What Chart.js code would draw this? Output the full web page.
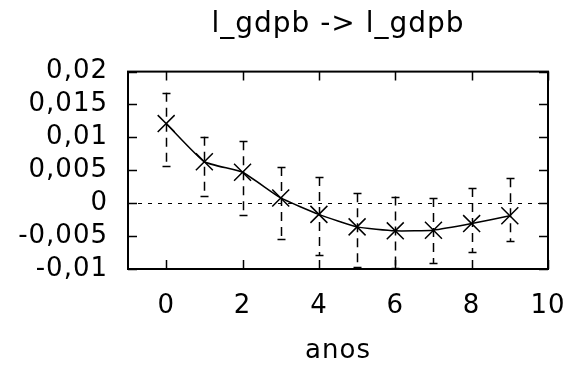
<!DOCTYPE html>
<html lang="pt">
  <head>
    <meta charset="UTF-8" />
    <title>l_gdpb -> l_gdpb</title>
    <script src="https://cdn.jsdelivr.net/npm/chart.js"></script>
    <style>
      html, body { margin: 0; padding: 0; background: #fff; }
      #wrap { width: 574px; height: 367px; }
    </style>
  </head>
  <body>
    <div id="wrap"><canvas id="irf"></canvas></div>
    <script>
      // resposta ao impulso e intervalo de confiança
      const anos = [0, 1, 2, 3, 4, 5, 6, 7, 8, 9];
      const resposta = [0.0121, 0.0063, 0.0047, 0.0008, -0.0017, -0.0036, -0.0042, -0.0041, -0.0031, -0.0019];
      const superior = [0.0168, 0.0101, 0.0094, 0.0055, 0.0040, 0.0015, 0.0010, 0.0008, 0.0023, 0.0038];
      const inferior = [0.0056, 0.0011, -0.0018, -0.0055, -0.0079, -0.0097, -0.0098, -0.0091, -0.0074, -0.0058];
      const xTicks = [0, 2, 4, 6, 8, 10];
      const yTicks = [-0.01, -0.005, 0, 0.005, 0.01, 0.015, 0.02];
      const yLabels = ["-0,01", "-0,005", "0", "0,005", "0,01", "0,015", "0,02"];

      const fonte = "DejaVu Sans";
      const tam = 26;

      // espaçamento das letras (a fonte original é mais larga)
      const espaco = {
        id: "espaco",
        beforeLayout(chart) { chart.ctx.letterSpacing = "1px"; },
        beforeDraw(chart) { chart.ctx.letterSpacing = "1px"; },
      };

      // barras de erro tracejadas, linha do zero e marcas internas
      const extras = {
        id: "extras",
        beforeDatasetsDraw(chart) {
          const { ctx, chartArea: a, scales: { x, y } } = chart;
          ctx.save();
          ctx.strokeStyle = "#000";
          ctx.lineWidth = 1;
          // linha do zero
          const y0 = Math.round(y.getPixelForValue(0)) + 0.5;
          ctx.setLineDash([4, 6]);
          ctx.beginPath();
          ctx.moveTo(a.left, y0);
          ctx.lineTo(a.right, y0);
          ctx.stroke();
          // barras de erro
          ctx.lineWidth = 1.5;
          anos.forEach((t, i) => {
            const px = Math.round(x.getPixelForValue(t)) + 0.5;
            const top = y.getPixelForValue(superior[i]);
            const bot = y.getPixelForValue(inferior[i]);
            ctx.setLineDash([9, 6]);
            ctx.beginPath();
            ctx.moveTo(px, top);
            ctx.lineTo(px, bot);
            ctx.stroke();
            ctx.setLineDash([]);
            ctx.beginPath();
            ctx.moveTo(px - 4, Math.round(top) + 0.5);
            ctx.lineTo(px + 4, Math.round(top) + 0.5);
            ctx.moveTo(px - 4, Math.round(bot) + 0.5);
            ctx.lineTo(px + 4, Math.round(bot) + 0.5);
            ctx.stroke();
          });
          // marcas internas
          ctx.lineWidth = 1.5;
          ctx.beginPath();
          x.ticks.forEach((tk) => {
            const px = Math.round(x.getPixelForValue(tk.value)) + 0.5;
            ctx.moveTo(px, a.bottom); ctx.lineTo(px, a.bottom - 9);
            ctx.moveTo(px, a.top); ctx.lineTo(px, a.top + 9);
          });
          y.ticks.forEach((tk) => {
            const py = Math.round(y.getPixelForValue(tk.value)) + 0.5;
            ctx.moveTo(a.left, py); ctx.lineTo(a.left + 9, py);
            ctx.moveTo(a.right, py); ctx.lineTo(a.right - 9, py);
          });
          ctx.stroke();
          // moldura
          ctx.lineWidth = 2;
          ctx.strokeRect(a.left, a.top, a.right - a.left, a.bottom - a.top);
          ctx.restore();
        },
      };

      new Chart(document.getElementById("irf"), {
        type: "line",
        data: {
          labels: anos,
          datasets: [
            {
              data: anos.map((t, i) => ({ x: t, y: resposta[i] })),
              borderColor: "#000",
              borderWidth: 1.5,
              tension: 0.15,
              pointStyle: "crossRot",
              pointRadius: 12,
              pointBorderWidth: 1.5,
              pointBorderColor: "#000",
              fill: false,
            },
          ],
        },
        options: {
          responsive: true,
          maintainAspectRatio: false,
          animation: false,
          layout: { padding: { top: 0, right: 26, bottom: 0, left: 0 } },
          plugins: {
            legend: { display: false },
            tooltip: { enabled: false },
            title: {
              display: true,
              fullSize: false,
              text: "l_gdpb -> l_gdpb",
              color: "#000",
              font: { family: fonte, size: 28, weight: "normal" },
              padding: { top: 8, bottom: 30 },
            },
          },
          scales: {
            x: {
              type: "linear",
              min: -1,
              max: 10,
              afterBuildTicks(s) { s.ticks = xTicks.map((v) => ({ value: v })); },
              afterFit(s) { s.height = 98; s.paddingLeft = 0; s.paddingRight = 0; },
              grid: { display: false, drawTicks: false },
              border: { display: false },
              ticks: {
                color: "#000",
                padding: 22,
                maxRotation: 0,
                autoSkip: false,
                font: { family: fonte, size: tam },
                callback: (v) => String(v),
              },
              title: {
                display: true,
                text: "anos",
                color: "#000",
                font: { family: fonte, size: tam },
                padding: { top: 0, bottom: 0 },
              },
            },
            y: {
              min: -0.01,
              max: 0.02,
              afterBuildTicks(s) { s.ticks = yTicks.map((v) => ({ value: v })); },
              afterFit(s) { s.width = 128; s.paddingTop = 0; s.paddingBottom = 0; },
              grid: { display: false, drawTicks: false },
              border: { display: false },
              ticks: {
                color: "#000",
                padding: 20,
                autoSkip: false,
                font: { family: fonte, size: tam },
                callback: (v) => yLabels[yTicks.indexOf(v)],
              },
            },
          },
        },
        plugins: [espaco, extras],
      });
    </script>
  </body>
</html>
